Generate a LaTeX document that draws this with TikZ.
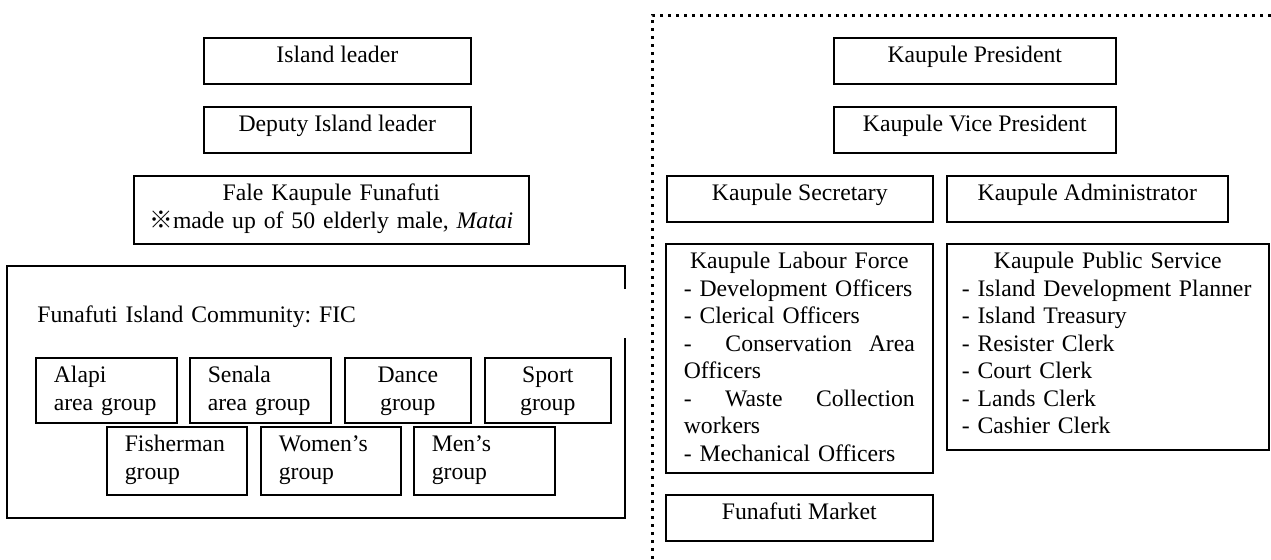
\documentclass[tikz,border=0pt]{standalone}
\usepackage{fontspec}
\setmainfont{Liberation Serif}
\newfontfamily\cjkfont{Noto Sans CJK JP}
\usepackage{tikz}
\setlength{\parindent}{0pt}
\frenchspacing
\hyphenpenalty=10000
\exhyphenpenalty=10000
\newcommand{\orgfont}{\fontsize{11.85pt}{13.75pt}\selectfont}
\newcommand{\midrow}[1]{\hfill#1\hfill\null}

\begin{document}
\begin{tikzpicture}[x=0.5pt, y=-0.5pt,
    orgbox/.style={draw, line width=0.8pt, anchor=north west, inner xsep=9pt, inner ysep=0pt, text height=12.5pt, font=\orgfont},
    onerow/.style={orgbox, text depth=10.5pt},
    framepen/.style={line width=0.8pt},
    dotline/.style={line width=1.5pt, dash pattern=on 1.5pt off 2.5pt}]
    \useasboundingbox (0,0) rectangle (1271,559);

    % Island leaders
    \node[onerow, minimum width=133.5pt] (lead) at (203,37) {Island leader};
    \node[onerow, minimum width=133.5pt] (deputy) at (203,106) {Deputy Island leader};
    \node[orgbox, inner xsep=5pt, text width=187.5pt, text depth=21.5pt, align=center] (fale) at (133,175) {Fale Kaupule Funafuti\\{\cjkfont ※}made up of 50 elderly male, \textit{Matai}};

    % Community frame (right side left open)
    \node[anchor=north west, inner xsep=15pt, inner ysep=0pt, text width=278.5pt, text height=28pt, text depth=97.5pt, align=left, font=\orgfont] (fic) at (7,266) {Funafuti Island Community: FIC};
    \draw[framepen] (fic.east |- 0,289) -- (fic.north east) -- (fic.north west) -- (fic.south west) -- (fic.south east) -- (fic.east |- 0,338);

    % Groups, first row
    \node[orgbox, text width=52.5pt, text depth=20pt, align=left] (alapi) at (35,357) {Alapi\\area group};
    \node[orgbox, text width=52.5pt, text depth=20pt, align=left] (senala) at (189,357) {Senala\\area group};
    \node[orgbox, text width=45pt, text depth=20pt, align=center] (dance) at (344,357) {Dance\\group};
    \node[orgbox, text width=45pt, text depth=20pt, align=center] (sport) at (484,357) {Sport\\group};

    % Groups, second row
    \node[orgbox, text width=52pt, text depth=21.5pt, align=left] (fisher) at (106,426) {Fisherman\\group};
    \node[orgbox, text width=52pt, text depth=21.5pt, align=left] (women) at (260,426) {Women’s\\group};
    \node[orgbox, text width=52.5pt, text depth=21.5pt, align=left] (men) at (413,426) {Men’s\\group};

    % Divider
    \draw[dotline] (1271,15) -- (652,15) -- (652,559);

    % Kaupule
    \node[onerow, minimum width=141pt] (pres) at (833,37) {Kaupule President};
    \node[onerow, minimum width=141pt] (vice) at (833,106) {Kaupule Vice President};
    \node[onerow, minimum width=133pt] (sec) at (666,175) {Kaupule Secretary};
    \node[onerow, minimum width=140.5pt] (admin) at (946,175) {Kaupule Administrator};

    % Staff
    \node[orgbox, text width=115.5pt, text depth=102pt, align=left] (labour) at (665,243) {\midrow{Kaupule Labour Force}\\- Development Officers\\- Clerical Officers\\-\hspace{0pt plus 2fill}Conservation\hfill Area\\Officers\\-\hfill Waste\hfill Collection\\workers\\- Mechanical Officers};
    \node[orgbox, inner xsep=7.5pt, text width=146pt, text depth=90.5pt, align=left] (public) at (946,243) {\midrow{Kaupule Public Service}\\- Island Development Planner\\- Island Treasury\\- Resister Clerk\\- Court Clerk\\- Lands Clerk\\- Cashier Clerk};
    \node[onerow, minimum width=133.5pt] (market) at (665,494) {Funafuti Market};
\end{tikzpicture}
\end{document}
